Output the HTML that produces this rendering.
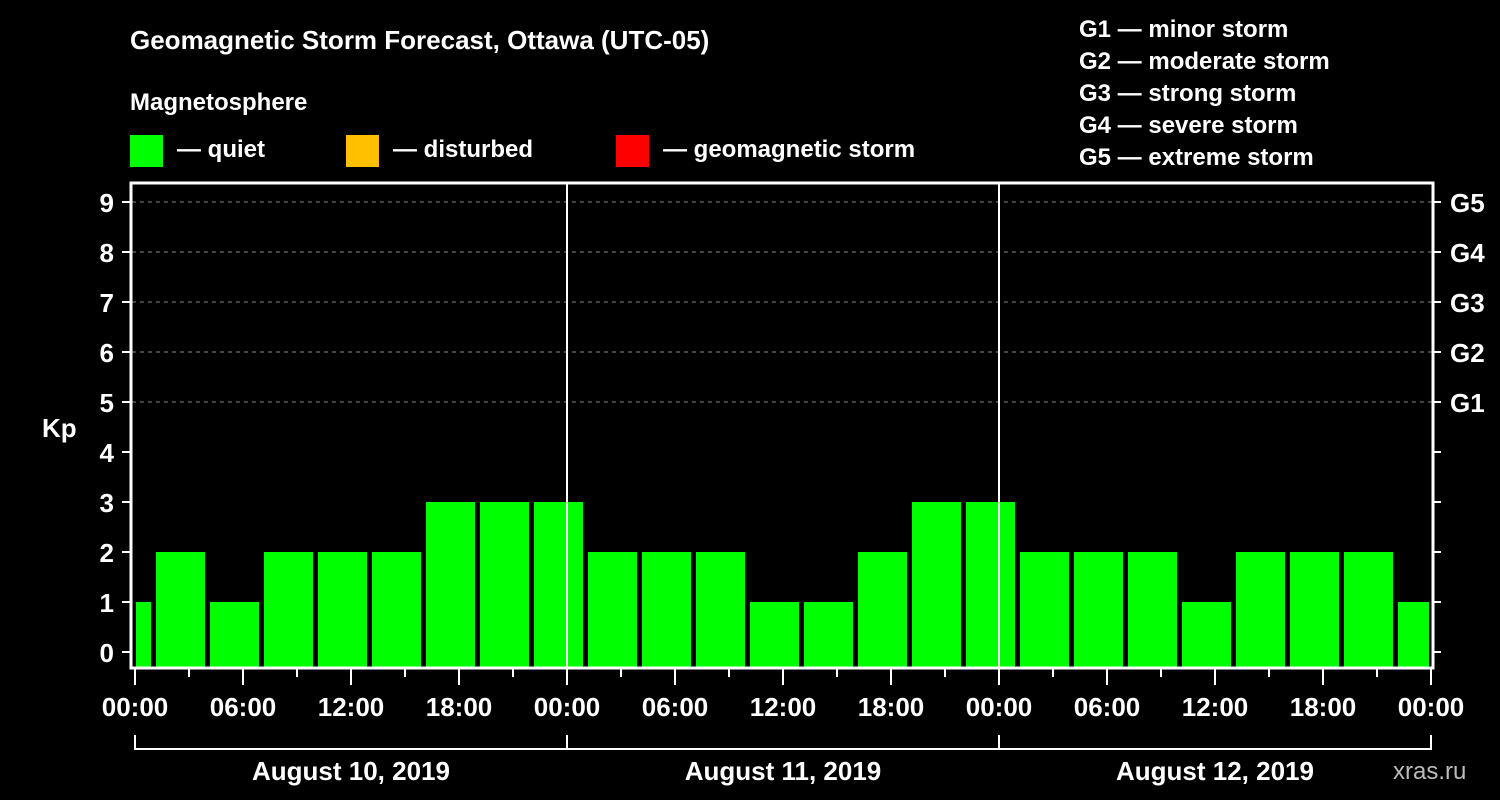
<!DOCTYPE html>
<html><head><meta charset="utf-8"><style>
body{margin:0;background:#000;}
svg{display:block;font-family:"Liberation Sans",Arial,sans-serif;font-weight:bold;}
</style></head><body>
<svg id="chart" width="1500" height="800" viewBox="0 0 1500 800" xmlns="http://www.w3.org/2000/svg">
<rect width="1500" height="800" fill="#000"/>
<text x="130" y="49" fill="#fff" font-size="26">Geomagnetic Storm Forecast, Ottawa (UTC-05)</text>
<text x="130" y="110" fill="#fff" font-size="24">Magnetosphere</text>
<g><rect x="130" y="135" width="33" height="32" fill="#00ff00"/><text x="177" y="157" fill="#fff" font-size="24">— quiet</text></g>
<g><rect x="346" y="135" width="33" height="32" fill="#ffc000"/><text x="393" y="157" fill="#fff" font-size="24">— disturbed</text></g>
<g><rect x="616" y="135" width="33" height="32" fill="#ff0000"/><text x="663" y="157" fill="#fff" font-size="24">— geomagnetic storm</text></g>
<g fill="#fff" font-size="24">
<text x="1079" y="37">G1 — minor storm</text>
<text x="1079" y="69">G2 — moderate storm</text>
<text x="1079" y="101">G3 — strong storm</text>
<text x="1079" y="133">G4 — severe storm</text>
<text x="1079" y="165">G5 — extreme storm</text>
</g>
<g id="grid"></g>
<g id="bars"></g>
<g id="axes"></g>
<text x="42" y="437" fill="#fff" font-size="26">Kp</text>
<text x="1393" y="779" fill="#bbb" font-size="24" font-weight="normal">xras.ru</text>
</svg>
<script>
const kpValues=[1,2,1,2,2,2,3,3,3,2,2,2,1,1,2,3,3,2,2,2,1,2,2,2,1];
const dayLabels=["August 10, 2019","August 11, 2019","August 12, 2019"];
const yTicks=[0,1,2,3,4,5,6,7,8,9];
const gLabels=["G1","G2","G3","G4","G5"];
const hourLabels=["00:00","06:00","12:00","18:00"];
const NS="http://www.w3.org/2000/svg";
const X0=135,PXH=432/24,Y0=652,PXK=50,BOT=667;
const xs=h=>X0+h*PXH, ys=k=>Y0-k*PXK;
function mk(t,a,p){const e=document.createElementNS(NS,t);for(const k in a)e.setAttribute(k,a[k]);p.appendChild(e);return e;}
const grid=document.getElementById('grid'),bars=document.getElementById('bars'),axes=document.getElementById('axes');
// gridlines for storm levels
gLabels.forEach((g,i)=>{const y=ys(5+i);
const l=mk('line',{x1:132,x2:1433,y1:y,y2:y,stroke:'#888','stroke-dasharray':'4,4'},grid);


const t=mk('text',{x:1450,y:y+10,fill:'#fff','font-size':26},axes);t.textContent=g;

});
// bars: first bar is clipped 22:00-01:00
const maxH=72;
kpValues.forEach((v,i)=>{let s=-2+3*(i), e=s+3;let x1=Math.max(s,0),x2=Math.min(e,maxH);
let px1=xs(x1)+(s<0?1:3), px2=xs(x2)-(e>maxH?2:2);
const c=v>=5?'#ff0000':(v>=4?'#ffc000':'#00ff00');
const r=mk('rect',{x:px1,y:ys(v),width:px2-px1,height:BOT-ys(v),fill:c},bars);

});
// day separators
[1,2].forEach(d=>{const l=mk('line',{x1:xs(24*d),x2:xs(24*d),y1:183,y2:668,stroke:'#fff','stroke-width':2},axes);

});
// plot frame
const f=mk('path',{d:'M131,668 V183 H1433 V668 Z',fill:'none',stroke:'#fff','stroke-width':3},axes);


// y ticks
yTicks.forEach(k=>{const y=ys(k);
mk('line',{x1:122,x2:131,y1:y,y2:y,stroke:'#fff','stroke-width':2},axes);
mk('line',{x1:1433,x2:1441,y1:y,y2:y,stroke:'#fff','stroke-width':2},axes);
const t=mk('text',{x:114,y:y+10,fill:'#fff','font-size':26,'text-anchor':'end'},axes);t.textContent=k;

});
// x ticks
for(let h=0;h<=72;h+=3){const x=xs(h);const major=h%6===0;
mk('line',{x1:x,x2:x,y1:668,y2:major?685:677,stroke:'#fff','stroke-width':2},axes);
if(major){const t=mk('text',{x:x,y:716,fill:'#fff','font-size':26,'text-anchor':'middle'},axes);t.textContent=hourLabels[(h%24)/6];

}}
// day brackets
mk('path',{d:`M${xs(0)},735 V749 H${xs(72)} V735 M${xs(24)},735 V749 M${xs(48)},735 V749`,fill:'none',stroke:'#fff','stroke-width':2},axes);
dayLabels.forEach((d,i)=>{const t=mk('text',{x:xs(24*i+12),y:780,fill:'#fff','font-size':26,'text-anchor':'middle'},axes);t.textContent=d;

});
</script>
</body></html>
